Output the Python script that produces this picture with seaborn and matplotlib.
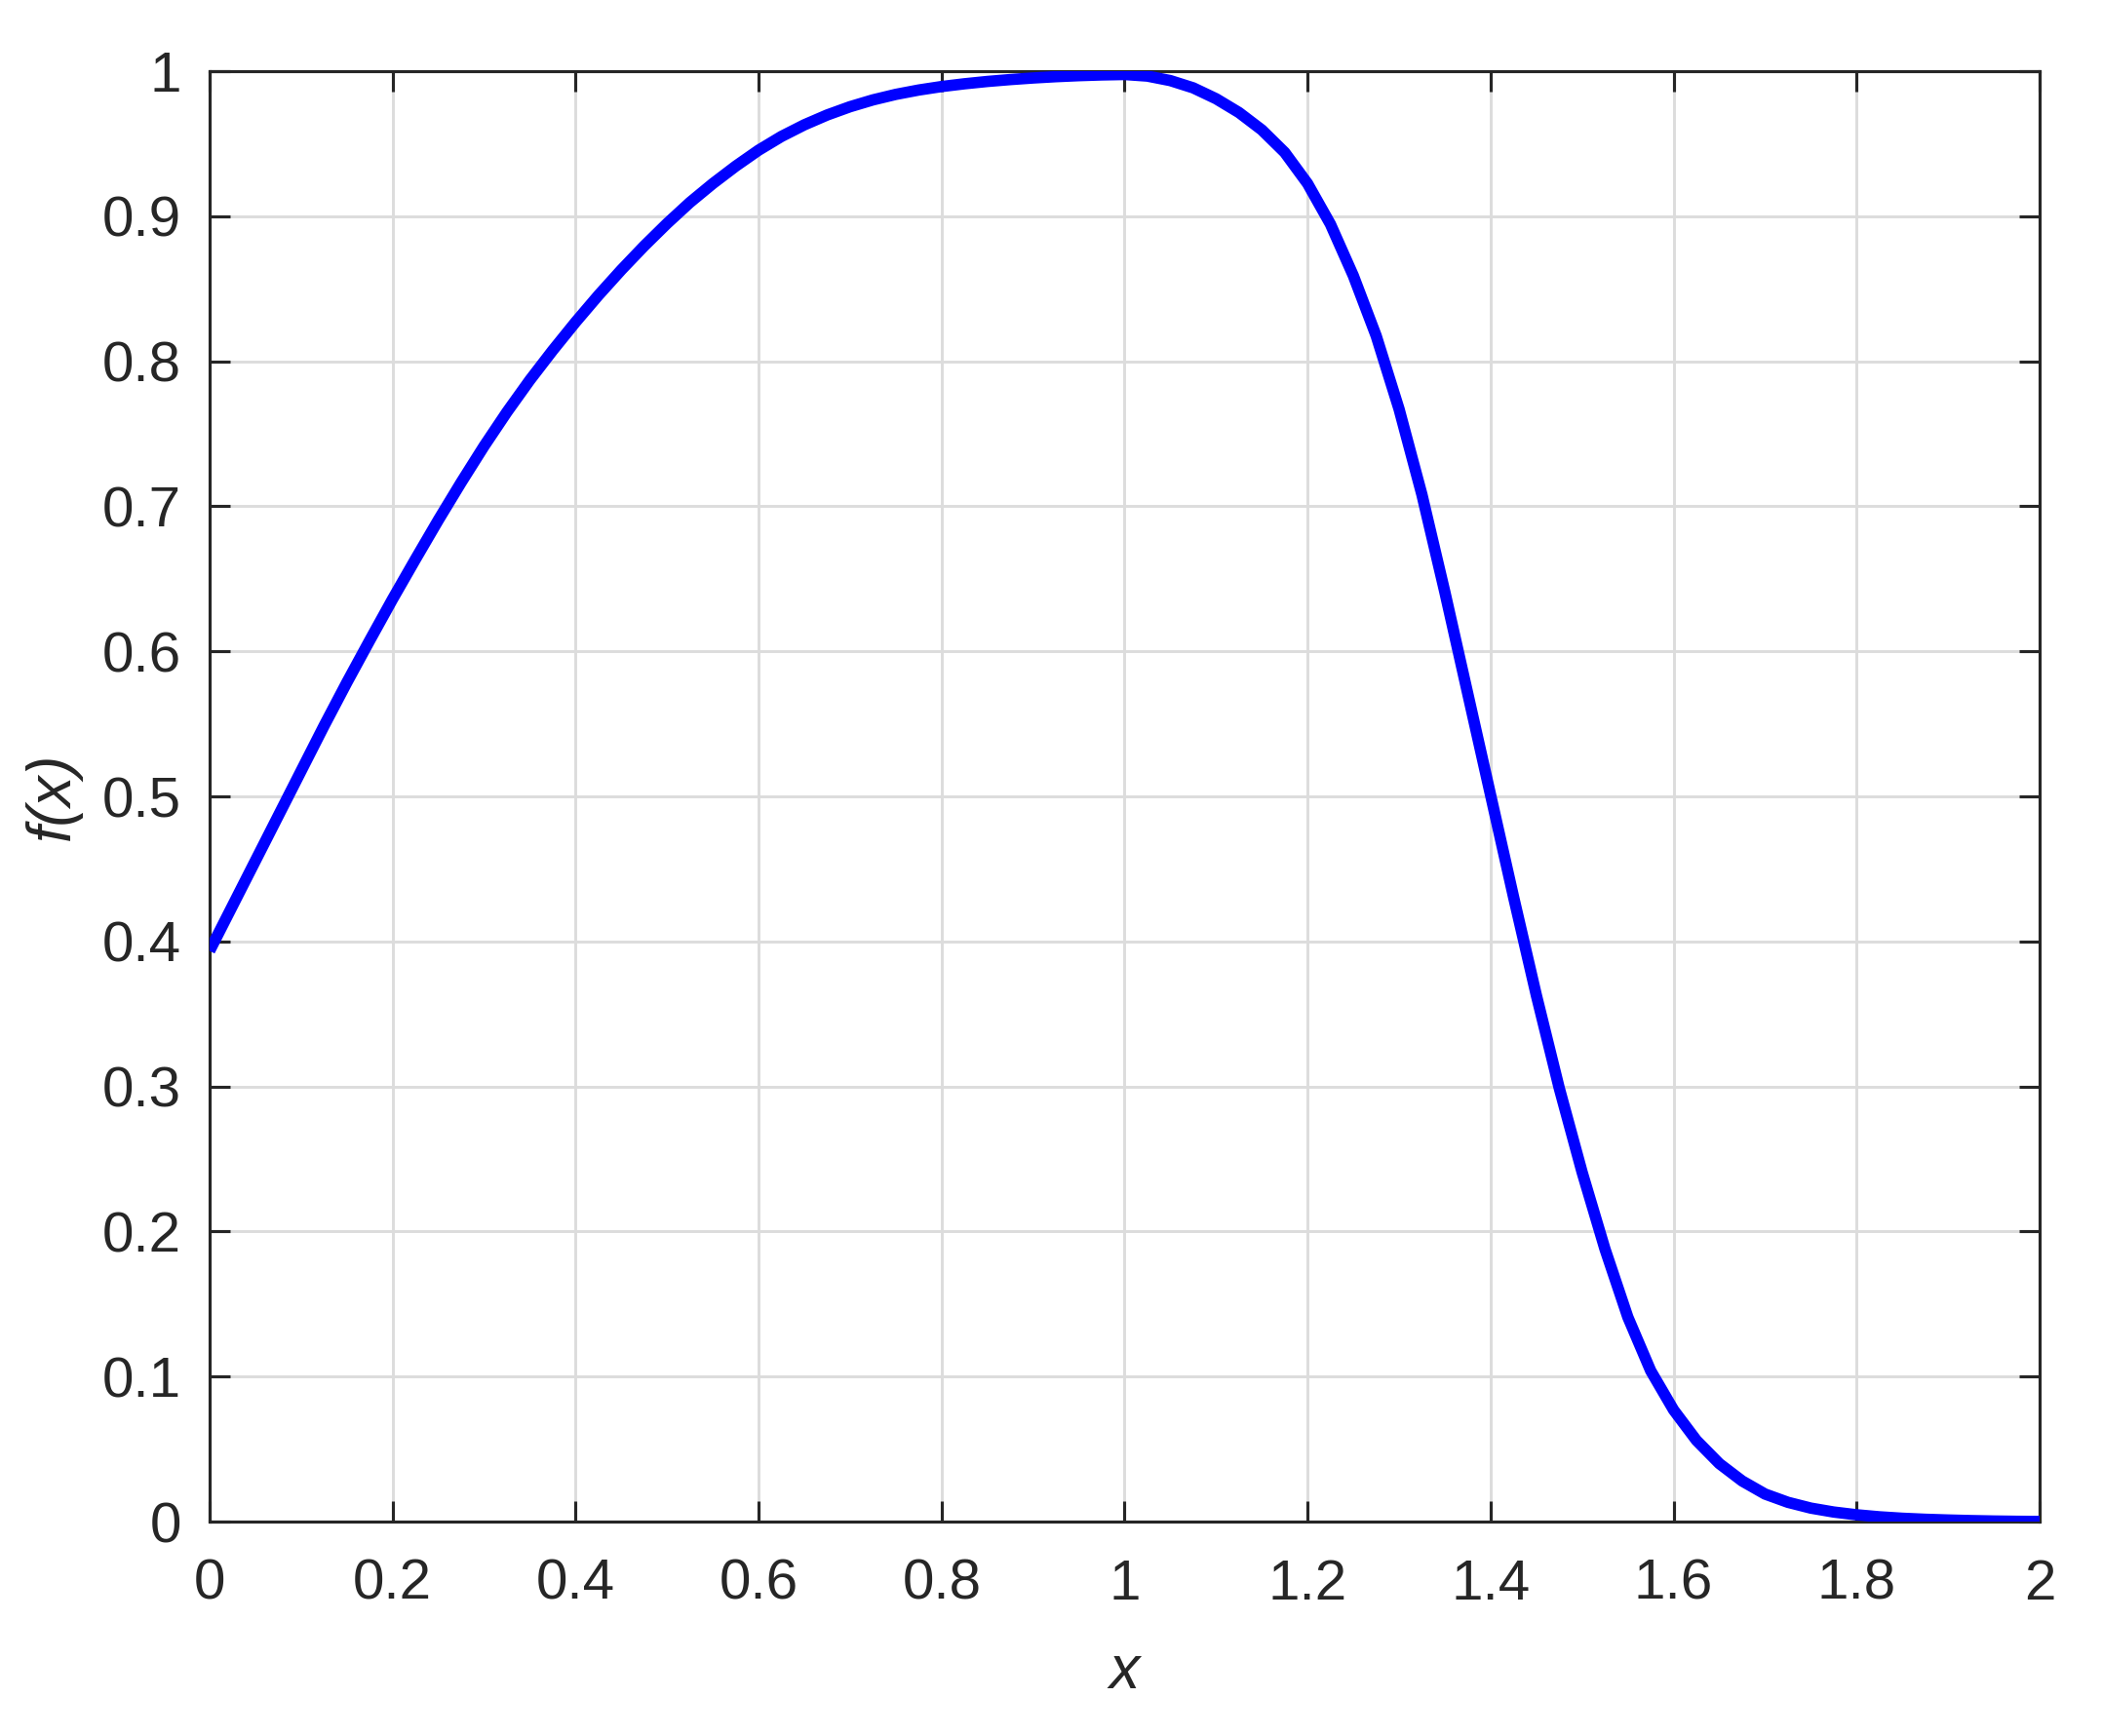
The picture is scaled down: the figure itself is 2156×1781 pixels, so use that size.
import numpy as np
import pandas as pd
import matplotlib
matplotlib.use("Agg")
import matplotlib.pyplot as plt
import seaborn as sns

# values (step 0.025)
x_vals = [0.000, 0.025, 0.050, 0.075, 0.100, 0.125, 0.150, 0.175, 0.200, 0.225,
          0.250, 0.275, 0.300, 0.325, 0.350, 0.375, 0.400, 0.425, 0.450, 0.475,
          0.500, 0.525, 0.550, 0.575, 0.600, 0.625, 0.650, 0.675, 0.700, 0.725,
          0.750, 0.775, 0.800, 0.825, 0.850, 0.875, 0.900, 0.925, 0.950, 0.975,
          1.000, 1.025, 1.050, 1.075, 1.100, 1.125, 1.150, 1.175, 1.200, 1.225,
          1.250, 1.275, 1.300, 1.325, 1.350, 1.375, 1.400, 1.425, 1.450, 1.475,
          1.500, 1.525, 1.550, 1.575, 1.600, 1.625, 1.650, 1.675, 1.700, 1.725,
          1.750, 1.775, 1.800, 1.825, 1.850, 1.875, 1.900, 1.925, 1.950, 1.975,
          2.000]
f_vals = [0.3935, 0.4245, 0.4555, 0.4865, 0.5175, 0.5485, 0.5785, 0.6075, 0.636, 0.6635,
          0.6905, 0.7165, 0.7415, 0.765, 0.787, 0.8075, 0.827, 0.8455, 0.863, 0.8795,
          0.895, 0.9095, 0.9225, 0.9345, 0.9455, 0.955, 0.963, 0.9698, 0.9755, 0.9802,
          0.984, 0.987, 0.9894, 0.9913, 0.9929, 0.9942, 0.9953, 0.9962, 0.9969, 0.9974,
          0.9977, 0.9966, 0.9935, 0.9885, 0.981, 0.9715, 0.9595, 0.944, 0.9225, 0.8945,
          0.859, 0.8175, 0.767, 0.708, 0.641, 0.571, 0.501, 0.431, 0.363, 0.299,
          0.241, 0.188, 0.141, 0.104, 0.077, 0.056, 0.040, 0.028, 0.019, 0.0133,
          0.0093, 0.0066, 0.0047, 0.0033, 0.0023, 0.0016, 0.0011, 0.0007, 0.0004, 0.0002,
          0.0001]

x_ticks = [0, 0.2, 0.4, 0.6, 0.8, 1, 1.2, 1.4, 1.6, 1.8, 2]
x_labels = ["0", "0.2", "0.4", "0.6", "0.8", "1", "1.2", "1.4", "1.6", "1.8", "2"]
y_ticks = [0, 0.1, 0.2, 0.3, 0.4, 0.5, 0.6, 0.7, 0.8, 0.9, 1]
y_labels = ["0", "0.1", "0.2", "0.3", "0.4", "0.5", "0.6", "0.7", "0.8", "0.9", "1"]

df = pd.DataFrame({"x": x_vals, "f": f_vals})

sns.set_theme(style="ticks")
plt.rcParams['font.family'] = ['Liberation Sans', 'DejaVu Sans']
dark = "#262626"

fig = plt.figure(figsize=(2156 / 300, 1781 / 300), dpi=300)
ax = fig.add_axes([0.0997, 0.1235, 0.8706, 0.8355])

sns.lineplot(data=df, x="x", y="f", color="#0000ff", linewidth=2.8, ax=ax,
             solid_capstyle="butt", solid_joinstyle="round", zorder=3)

ax.set_xlim(0, 2)
ax.set_ylim(0, 1)
ax.set_xticks(x_ticks)
ax.set_xticklabels(x_labels)
ax.set_yticks(y_ticks)
ax.set_yticklabels(y_labels)
ax.grid(True, color="#dcdcdc", linewidth=0.7)
ax.set_axisbelow(True)

for side in ["top", "right", "bottom", "left"]:
    ax.spines[side].set_visible(True)
    ax.spines[side].set_color(dark)
    ax.spines[side].set_linewidth(0.75)

ax.tick_params(axis="both", which="major", direction="in", length=5, width=0.75,
               color=dark, labelcolor=dark, labelsize=14, top=True, right=True)
ax.tick_params(axis="x", pad=9)
ax.tick_params(axis="y", pad=7)

ax.set_xlabel("x", fontsize=15, style="italic", color=dark, labelpad=8)
ax.set_ylabel("f(x)", fontsize=15, style="italic", color=dark, labelpad=5)

fig.savefig("out.png", dpi=300)
